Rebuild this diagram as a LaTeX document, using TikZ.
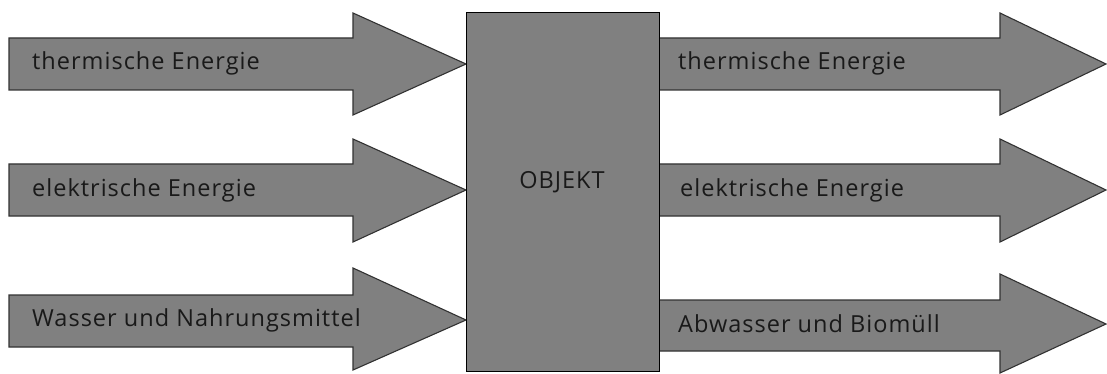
\documentclass[tikz,border=0pt]{standalone}
\usepackage{fontspec}
\setmainfont{Open Sans}[LetterSpace=4.3]
\begin{document}
\begin{tikzpicture}[x=1pt,y=-1pt,
  flow/.style={fill=arrowgray,draw=edgegray,line width=1.1pt,line join=miter},
  lbl/.style={anchor=base west,inner sep=0pt,text=txtcol,font=\fontsize{23.5}{26}\selectfont}]
\definecolor{arrowgray}{RGB}{128,128,128}
\definecolor{edgegray}{RGB}{50,50,50}
\definecolor{txtcol}{RGB}{25,25,25}
\useasboundingbox (0,0) rectangle (1107,374);
% input arrows
\draw[flow] (9,38) -- (353,38) -- (353,13) -- (466,64) -- (353,115) -- (353,90) -- (9,90) -- cycle;
\draw[flow] (9,164) -- (353,164) -- (353,139) -- (466,190) -- (353,242) -- (353,216) -- (9,216) -- cycle;
\draw[flow] (9,295) -- (353,295) -- (353,268) -- (466,320) -- (353,370) -- (353,347) -- (9,347) -- cycle;
% output arrows
\draw[flow] (659,38) -- (1000,38) -- (1000,13) -- (1106,64) -- (1000,115) -- (1000,90) -- (659,90) -- cycle;
\draw[flow] (659,164) -- (1000,164) -- (1000,139) -- (1106,190) -- (1000,242) -- (1000,216) -- (659,216) -- cycle;
\draw[flow] (659,300) -- (1000,300) -- (1000,274) -- (1106,324) -- (1000,373) -- (1000,351) -- (659,351) -- cycle;
% object box
\node[flow,draw=black,minimum width=193pt,minimum height=359pt,anchor=north west,inner sep=0pt] (obj) at (466,12) {};
\node[lbl,anchor=base] (objl) at (562,188) {OBJEKT};
% labels
\node[lbl] (in1) at (32,70) {thermische Energie};
\node[lbl] (in2) at (32,196) {elektrische Energie};
\node[lbl] (in3) at (32,326) {Wasser und Nahrungsmittel};
\node[lbl] (out1) at (678,70) {thermische Energie};
\node[lbl] (out2) at (680,196) {elektrische Energie};
\node[lbl] (out3) at (678,332) {Abwasser und Biomüll};
\end{tikzpicture}
\end{document}
